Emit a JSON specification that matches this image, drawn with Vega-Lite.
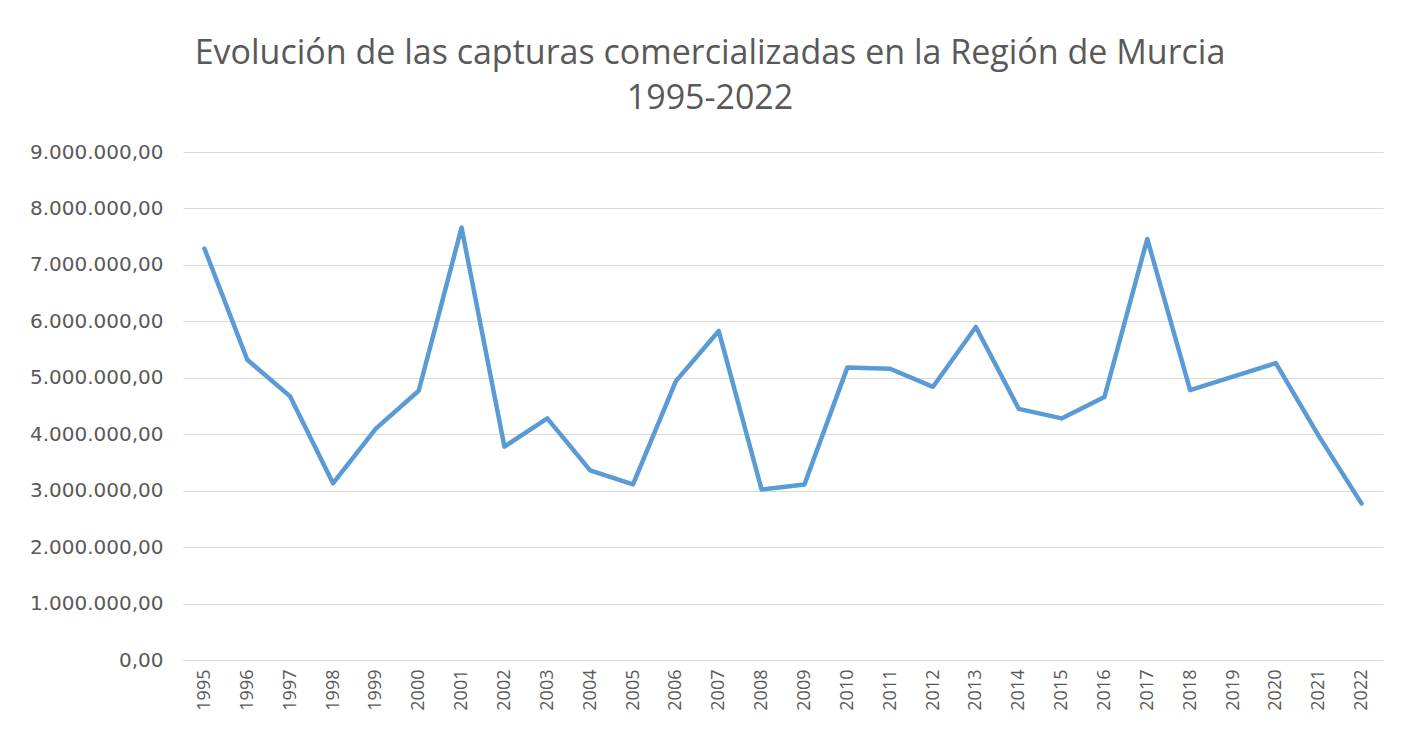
{
  "$schema": "https://vega.github.io/schema/vega-lite/v6.json",
  "autosize": "none",
  "width": 1200,
  "height": 508,
  "padding": {"left": 183, "top": 152, "right": 19, "bottom": 71},
  "background": "white",
  "config": {
    "locale": {"number": {"decimal": ",", "thousands": ".", "grouping": [3], "currency": ["", " €"]}},
    "view": {"stroke": null}
  },
  "title": {
    "text": ["Evolución de las capturas comercializadas en la Región de Murcia", "1995-2022"],
    "font": "Open Sans",
    "fontSize": 34,
    "fontWeight": "normal",
    "color": "#595959",
    "anchor": "middle",
    "dx": -73,
    "offset": 26,
    "lineHeight": 45
  },
  "data": {
    "values": [
      {"year": "1995", "value": 7290000},
      {"year": "1996", "value": 5320000},
      {"year": "1997", "value": 4670000},
      {"year": "1998", "value": 3130000},
      {"year": "1999", "value": 4100000},
      {"year": "2000", "value": 4770000},
      {"year": "2001", "value": 7660000},
      {"year": "2002", "value": 3780000},
      {"year": "2003", "value": 4280000},
      {"year": "2004", "value": 3360000},
      {"year": "2005", "value": 3110000},
      {"year": "2006", "value": 4940000},
      {"year": "2007", "value": 5830000},
      {"year": "2008", "value": 3020000},
      {"year": "2009", "value": 3110000},
      {"year": "2010", "value": 5180000},
      {"year": "2011", "value": 5160000},
      {"year": "2012", "value": 4840000},
      {"year": "2013", "value": 5900000},
      {"year": "2014", "value": 4450000},
      {"year": "2015", "value": 4280000},
      {"year": "2016", "value": 4660000},
      {"year": "2017", "value": 7460000},
      {"year": "2018", "value": 4780000},
      {"year": "2019", "value": 5020000},
      {"year": "2020", "value": 5260000},
      {"year": "2021", "value": 3970000},
      {"year": "2022", "value": 2770000}
    ]
  },
  "mark": {"type": "line", "color": "#5B9BD5", "strokeWidth": 4.5, "strokeJoin": "round", "strokeCap": "round"},
  "encoding": {
    "x": {
      "field": "year",
      "type": "ordinal",
      "scale": {"type": "point", "padding": 0.5},
      "axis": {
        "title": null,
        "labelAngle": -90,
        "labelFont": "Open Sans",
        "labelFontSize": 18,
        "labelColor": "#595959",
        "labelPadding": 9,
        "ticks": false,
        "domain": true,
        "domainColor": "#d9d9d9",
        "domainWidth": 1
      }
    },
    "y": {
      "field": "value",
      "type": "quantitative",
      "scale": {"domain": [0, 9000000], "nice": false},
      "axis": {
        "title": null,
        "values": [0, 1000000, 2000000, 3000000, 4000000, 5000000, 6000000, 7000000, 8000000, 9000000],
        "format": ",.2f",
        "labelFont": "DejaVu Sans",
        "labelFontSize": 20,
        "labelColor": "#595959",
        "labelPadding": 20,
        "ticks": false,
        "domain": false,
        "grid": true,
        "gridColor": "#d9d9d9",
        "gridWidth": 1
      }
    }
  }
}
